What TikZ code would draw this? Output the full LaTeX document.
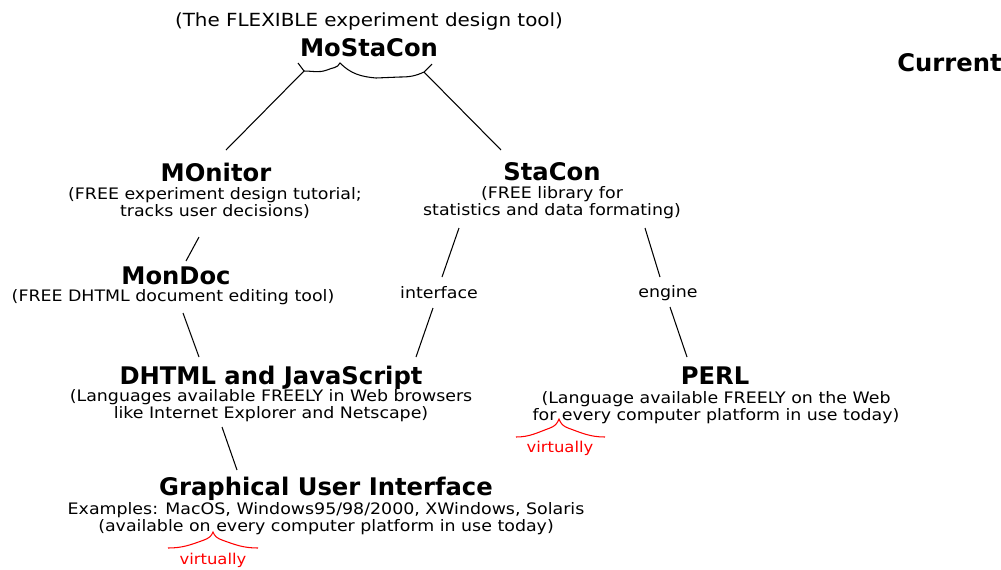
\documentclass[tikz,border=0pt]{standalone}
\usepackage{fontspec}
\setmainfont{DejaVu Sans}
\newfontfamily\widesans[FakeStretch=1.1]{DejaVu Sans}
\usepackage{tikz}
\usetikzlibrary{positioning,calc}
\definecolor{mcred}{HTML}{FF0000}

\begin{document}
\begin{tikzpicture}[
  x=0.02cm, y=-0.02cm,
  title/.style={font=\bfseries\fontsize{13.8}{15}\selectfont, inner sep=0pt},
  desc/.style={font=\widesans\fontsize{9}{9.6}\selectfont, align=center, inner sep=0pt},
  tag/.style={font=\widesans\fontsize{9}{10}\selectfont, inner sep=0pt},
  note/.style={font=\widesans\fontsize{8.5}{10}\selectfont, text=mcred, inner sep=0pt},
  link/.style={line width=0.6pt, black},
  brace/.style={line width=0.6pt, mcred}
]
\useasboundingbox (0,0) rectangle (1001,569);

\node[font=\widesans\fontsize{10.3}{12}\selectfont, inner sep=0pt] (flex) at (369,22) {(The FLEXIBLE experiment design tool)};
\node[title] (mostacon) at (369,48) {MoStaCon};
\node[title, anchor=west] (current) at (897,63) {Current};

% brace under MoStaCon
\coordinate (brL) at (304,71);
\coordinate (brR) at (424,72);
\draw[link] (298,63) -- (brL) to[out=0,in=200] (327,70) to[out=25,in=-115] (340,63)
  to[out=-45,in=175] (376,78) -- (400,77) to[out=0,in=-155] (brR) -- (432,64);

\node[title] (monitor) at (216,172) {MOnitor};
\node[desc] (monitorTxt) at (215,203) {(FREE experiment design tutorial;\\tracks user decisions)};

\node[title] (stacon) at (552,172) {StaCon};
\node[desc] (staconTxt) at (552,203) {(FREE library for\\statistics and data formating)};

\node[title] (mondoc) at (176,276) {MonDoc};
\node[desc] (mondocTxt) at (173,297) {(FREE DHTML document editing tool)};

\node[tag] (iface) at (439,293) {interface};
\node[tag] (engine) at (668,293) {engine};

\node[title] (dhtml) at (271,378) {DHTML and JavaScript};
\node[desc] (dhtmlTxt) at (271,406) {(Languages available FREELY in Web browsers\\like Internet Explorer and Netscape)};

\node[title] (perl) at (715,376) {PERL};
\node[desc] (perlTxt) at (716,408) {(Language available FREELY on the Web\\for every computer platform in use today)};

\node[title] (gui) at (326,489) {Graphical User Interface};
\node[desc] (guiTxt) at (326,519) {Examples: MacOS, Windows95/98/2000, XWindows, Solaris\\(available on every computer platform in use today)};

% red "virtually" marks
\node[note] (virtPerl) at (560,448) {virtually};
\draw[brace] (516,437) to[out=0,in=200] (550,428) to[out=20,in=-110] (559,419)
  to[out=-70,in=160] (568,428) to[out=-20,in=180] (605,437);
\node[note] (virtGui) at (213,560) {virtually};
\draw[brace] (168,548) to[out=0,in=200] (204,540) to[out=20,in=-110] (213,532)
  to[out=-70,in=160] (222,540) to[out=-20,in=180] (258,548);

% Links
\draw[link] (brL) -- ($(monitor)+(10,-22)$);
\draw[link] (brR) -- ($(stacon)+(-51,-22)$);
\draw[link] ($(monitorTxt)+(-16,34)$) -- ($(mondoc)+(10,-15)$);
\draw[link] ($(staconTxt)+(-93,25)$) -- ($(iface)+(3,-16)$);
\draw[link] ($(iface)+(-6,15)$) -- ($(dhtml)+(145,-21)$);
\draw[link] ($(staconTxt)+(93,25)$) -- ($(engine)+(-8,-16)$);
\draw[link] ($(engine)+(2,14)$) -- ($(perl)+(-28,-19)$);
\draw[link] ($(mondocTxt)+(10,16)$) -- ($(dhtml)+(-72,-21)$);
\draw[link] ($(dhtmlTxt)+(-49,21)$) -- ($(gui)+(-89,-19)$);
\end{tikzpicture}
\end{document}
